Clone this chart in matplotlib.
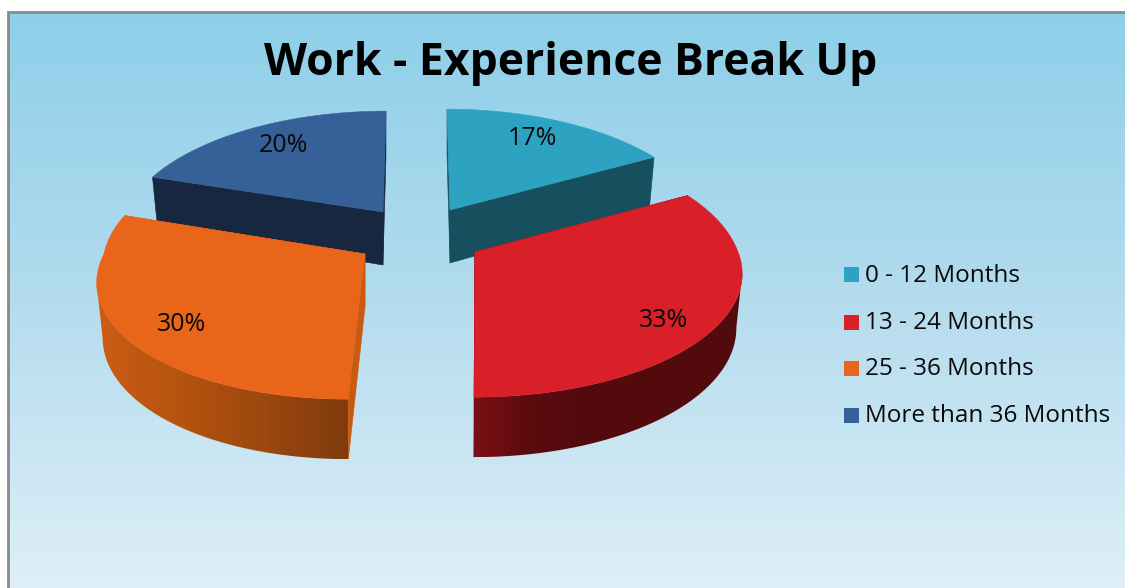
import numpy as np
import matplotlib
matplotlib.use("Agg")
import matplotlib.pyplot as plt
from matplotlib.colors import LinearSegmentedColormap
from matplotlib.patches import Polygon, Rectangle

# Chart data
title = "Work - Experience Break Up"
categories = ["0 - 12 Months", "13 - 24 Months", "25 - 36 Months", "More than 36 Months"]
shares = [17, 33, 30, 20]

# Colours per slice
top_colors = ["#2da3c1", "#d91f28", "#e9651a", "#366098"]
wall_colors = ["#16505f", "#7a0e14", "#c85a12", "#17273f"]
# Outer side shading, listed from the left end of each slice to the right
rim_ramps = [
    ["#16505f", "#16505f"],
    ["#7a1015", "#5c0a0e", "#530a0d", "#530a0d", "#530a0d", "#530a0d"],
    ["#cc5c14", "#b5530f", "#9c480e", "#7f3a0f"],
    ["#17273f", "#17273f"],
]

# Projection of the tilted, exploded pie, in pixels
apexes = [(450, 210), (475, 252), (365, 254), (383, 212)]
radius_x = [255, 263, 261, 257]
shears = [0.03, -0.007, -0.117, -0.03]
back_stretch_x = [1.0, 1.0, 1.04, 1.0]
back_stretch_y = [1.0, 1.07, 1.1, 1.0]
RADIUS_Y = 119
PERSPECTIVE = 0.18
BOTTOM_X_SCALE = 0.978
label_radius = [0.8, 0.75, 0.75, 0.78]
label_nudge = [(-8, 1), (7, 20), (-5, 14), (4, 1)]


def project(i, t, r=1.0):
    """Screen offset from the slice apex for clockwise angle t (radians from the back)."""
    side, front = np.sin(t) * r, -np.cos(t) * r
    p = 1 / (1 - PERSPECTIVE * front)
    is_back = front < 0
    # The x stretch grows gradually behind the centre line so the arc stays smooth
    blend = np.clip(-front / 0.3, 0, 1)
    dy = RADIUS_Y * front * p * np.where(is_back, back_stretch_y[i], 1.0)
    dx = radius_x[i] * side * p * (1 + (back_stretch_x[i] - 1) * blend) + shears[i] * dy
    return dx, dy, front


def depth(front):
    return 53 + 7 * front


fig = plt.figure(figsize=(11.25, 5.88), dpi=100, facecolor="white")
ax = fig.add_axes([0, 0, 1, 1])
ax.axis("off")

# Panel background with frame on the left and top
sky = LinearSegmentedColormap.from_list("sky", ["#8dcfe9", "#b4dcee", "#deeff7"])
ax.imshow(np.linspace(0, 1, 256)[:, None], cmap=sky, aspect="auto",
          extent=(8, 1125, 588, 12), zorder=0)
ax.plot([8, 8, 1125], [588, 12, 12], color="#8a8a8a", lw=2, zorder=1,
        solid_joinstyle="miter")

bounds = np.cumsum([0] + shares) / sum(shares) * 2 * np.pi
z = 2
# Back slices first, then the front ones over them
for i in [3, 0, 2, 1]:
    ax0, ay0 = apexes[i]
    t = np.linspace(bounds[i], bounds[i + 1], 240)
    dx, dy, fr = project(i, t)
    top_x, top_y = ax0 + dx, ay0 + dy
    low_x, low_y = ax0 + dx * BOTTOM_X_SCALE, ay0 + dy + depth(fr)
    low_ax, low_ay = ax0, ay0 + depth(0)

    # Outer side: the part of the arc from its widest point towards the viewer
    widest_fr = fr[np.argmax(np.abs(dx))]
    seen = fr >= max(widest_fr, -0.05)
    if seen.sum() > 2:
        xs = np.r_[top_x[seen], low_x[seen][::-1]]
        ys = np.r_[top_y[seen], (low_y[seen])[::-1]]
        outline = Polygon(np.column_stack([xs, ys]), closed=True,
                          transform=ax.transData, fc="none", ec="none")
        ax.add_patch(outline)
        ramp = LinearSegmentedColormap.from_list("rim", rim_ramps[i])
        shade = ax.imshow(np.linspace(0, 1, 256)[None, :], cmap=ramp, aspect="auto",
                          extent=(xs.min(), xs.max(), ys.max(), ys.min()), zorder=z)
        shade.set_clip_path(outline)
    z += 1

    # Cut faces on the two radial edges
    for k in (0, -1):
        ax.add_patch(Polygon(
            [(ax0, ay0), (top_x[k], top_y[k]), (low_x[k], low_y[k]), (low_ax, low_ay)],
            closed=True, fc=wall_colors[i], ec=wall_colors[i], lw=0.4, zorder=z))
    z += 1

    # Upper surface
    ax.add_patch(Polygon(np.column_stack([np.r_[ax0, top_x], np.r_[ay0, top_y]]),
                         closed=True, fc=top_colors[i], ec=top_colors[i], lw=0.4, zorder=z))
    z += 1

# Percentage labels on the slices
for i, value in enumerate(shares):
    mid = (bounds[i] + bounds[i + 1]) / 2
    dx, dy, _ = project(i, mid, label_radius[i])
    ax.text(apexes[i][0] + dx + label_nudge[i][0], apexes[i][1] + dy + label_nudge[i][1],
            f"{value}%", ha="center", va="center", fontsize=18, family="Open Sans",
            color="#0a0a0a", zorder=40)

ax.text(571, 63, title, ha="center", va="center", fontsize=32, fontweight="bold",
        family="Open Sans", color="black", zorder=40)

# Legend
legend_y = [276, 323, 369, 416.5]
swatch_y = [274.5, 322.5, 368.5, 415.5]
for name, color, y, sy in zip(categories, top_colors, legend_y, swatch_y):
    ax.add_patch(Rectangle((844, sy - 7.5), 15, 15, fc=color, ec="none", zorder=40))
    ax.text(865, y, name, ha="left", va="center", fontsize=17.5, family="Open Sans",
            color="#0a0a0a", zorder=40)

ax.set_xlim(0, 1125)
ax.set_ylim(588, 0)
fig.savefig("out.png", dpi=100)
